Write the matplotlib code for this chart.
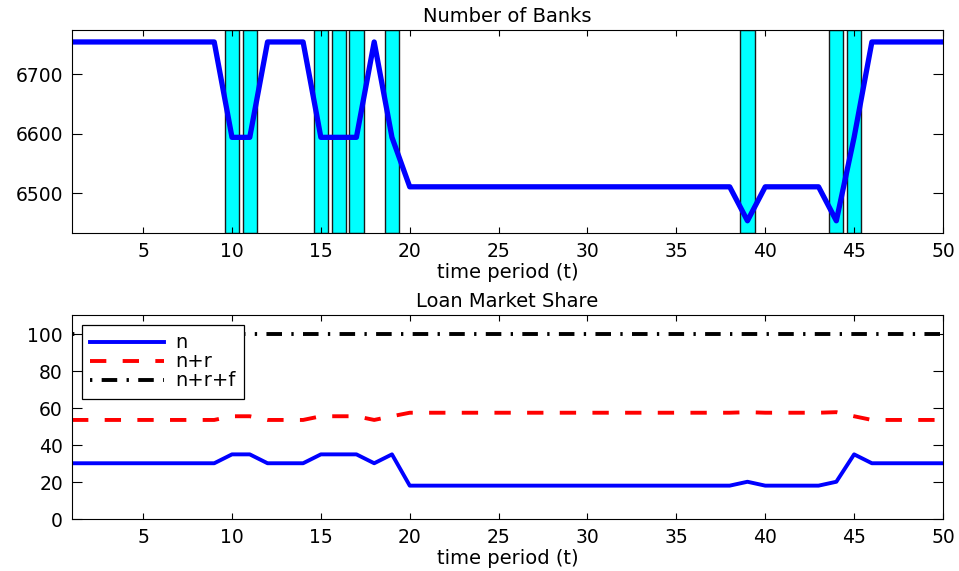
import numpy as np
import matplotlib
matplotlib.use("Agg")
import matplotlib.pyplot as plt

# Период времени
periods = np.arange(1, 51)

# Число банков
banks = [6754] * 9 + [6594, 6594, 6754, 6754, 6754, 6594, 6594, 6594, 6754, 6594] \
        + [6511] * 19 + [6454, 6511, 6511, 6511, 6511, 6454, 6594] + [6754] * 5

# Периоды кризисов (закрашенные столбцы)
crisis_periods = [10, 11, 15, 16, 17, 19, 39, 44, 45]

# Доли рынка кредитов
share_n = [30.3] * 9 + [35.1, 35.1, 30.3, 30.3, 30.3, 35.1, 35.1, 35.1, 30.3, 35.1] \
          + [18.2] * 19 + [20.3, 18.2, 18.2, 18.2, 18.2, 20.3, 35.1] + [30.3] * 5
share_nr = [53.7] * 9 + [55.7, 55.7, 53.7, 53.7, 53.7, 55.7, 55.7, 55.7, 53.7, 55.7] \
           + [57.6] * 19 + [57.9, 57.6, 57.6, 57.6, 57.6, 57.9, 55.7] + [53.7] * 5
share_nrf = [100] * 50

plt.rcParams['font.family'] = ['DejaVu Sans']
plt.rcParams['font.size'] = 14
plt.rcParams['axes.edgecolor'] = 'black'

figure = plt.figure(figsize=[9.59, 5.71], dpi=100)
ax_banks = figure.add_axes([0.0751, 0.5914, 0.9082, 0.356])
ax_share = figure.add_axes([0.0751, 0.0905, 0.9082, 0.3578])

for ax in (ax_banks, ax_share):
    ax.tick_params(direction='in', top=True, right=True, length=4.5, width=0.8,
                   labelsize=13.5, pad=6.5)
    ax.tick_params(axis='y', length=7, pad=6.5)
    ax.set_xlim(1, 50)
    ax.set_xticks(np.arange(5, 51, 5))
    ax.set_xlabel("time period (t)", labelpad=1)

# Верхний график
for p in crisis_periods:
    ax_banks.axvspan(p - 0.4, p + 0.4, facecolor='#00ffff', edgecolor='#1a1a1a', linewidth=1.0)
ax_banks.plot(periods, banks, color='#0000ff', linewidth=3.8)
ax_banks.set_ylim(6433, 6774)
ax_banks.set_yticks([6500, 6600, 6700])
ax_banks.set_title("Number of Banks", fontsize=14, y=1.0, pad=5.5)

# Нижний график
ax_share.plot(periods, share_n, color='#0000ff', linewidth=2.8, label="n")
ax_share.plot(periods, share_nr, color='#ff0000', linewidth=2.8, linestyle=(0, (4.2, 4.2)), label="n+r")
ax_share.plot(periods, share_nrf, color='black', linewidth=2.8, linestyle=(0, (0.6, 2.4, 4, 2.4)), label="n+r+f")
ax_share.set_ylim(0, 110.4)
ax_share.set_yticks(np.arange(0, 101, 20))
ax_share.set_title("Loan Market Share", fontsize=14, y=1.0, pad=5.5)
legend = ax_share.legend(loc='upper left', fancybox=False, edgecolor='black', framealpha=1,
                         handlelength=3.8, borderaxespad=0.5, fontsize=14,
                         labelspacing=0.0, borderpad=0.45, handletextpad=0.55)
legend.get_frame().set_linewidth(0.9)

figure.savefig("out.png", dpi=100)
